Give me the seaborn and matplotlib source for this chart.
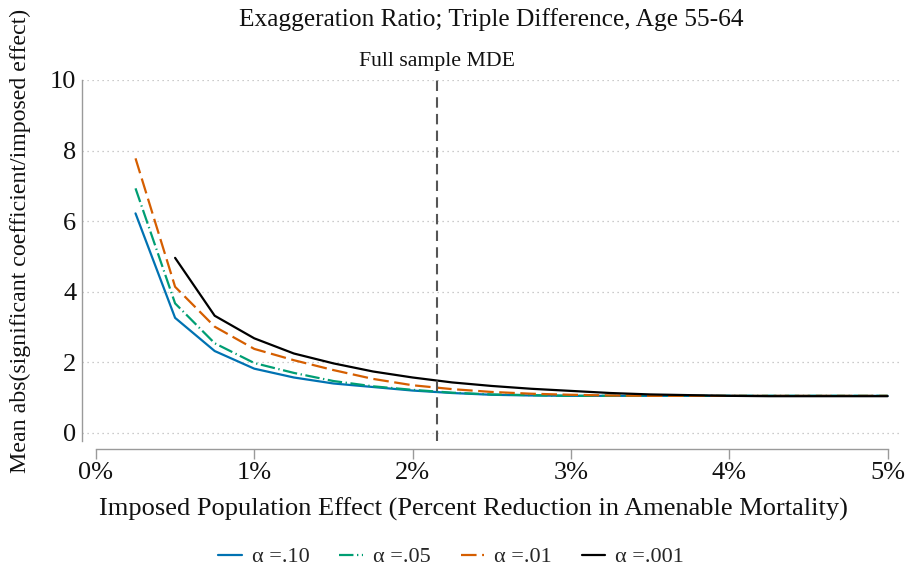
import numpy as np
import pandas as pd
import matplotlib
matplotlib.use("Agg")
import matplotlib.pyplot as plt
import matplotlib.transforms as mtransforms
import seaborn as sns

# Imposed population effect (percent reduction)
effect = [0.25, 0.50, 0.75, 1.00, 1.25, 1.50, 1.75, 2.00, 2.25, 2.50,
          2.75, 3.00, 3.25, 3.50, 3.75, 4.00, 4.25, 4.50, 4.75, 5.00]

# Mean exaggeration ratio by significance level
ratio_a10 = [6.22, 3.26, 2.32, 1.82, 1.57, 1.40, 1.30, 1.20, 1.13, 1.08,
             1.06, 1.05, 1.05, 1.05, 1.05, 1.05, 1.05, 1.05, 1.05, 1.05]
ratio_a05 = [6.93, 3.67, 2.54, 1.98, 1.70, 1.47, 1.32, 1.22, 1.14, 1.09,
             1.07, 1.05, 1.05, 1.05, 1.05, 1.05, 1.05, 1.05, 1.05, 1.05]
ratio_a01 = [7.78, 4.14, 3.01, 2.38, 2.06, 1.78, 1.53, 1.35, 1.24, 1.16,
             1.11, 1.08, 1.06, 1.05, 1.05, 1.05, 1.05, 1.05, 1.05, 1.05]
ratio_a001 = [np.nan, 4.96, 3.32, 2.68, 2.25, 1.97, 1.74, 1.57, 1.43, 1.33,
              1.25, 1.19, 1.13, 1.09, 1.07, 1.05, 1.04, 1.04, 1.04, 1.04]

series_labels = ["\u03b1 =.10", "\u03b1 =.05", "\u03b1 =.01", "\u03b1 =.001"]
mde = 2.152

sns.set_theme(style="white")
plt.rcParams["font.family"] = ["Liberation Serif", "DejaVu Serif"]

fig = plt.figure(figsize=(9.05, 5.78), dpi=100)
ax = fig.add_axes([0.0906, 0.237, 0.904, 0.6246])

styles = [
    ("#0072B2", "-"),
    ("#009E73", (0, (6.5, 1.6, 0.6, 1.6))),
    ("#D55E00", (0, (7, 2.5))),
    ("#000000", "-"),
]
for vals, lab, (col, ls) in zip([ratio_a10, ratio_a05, ratio_a01, ratio_a001],
                                series_labels, styles):
    df = pd.DataFrame({"effect": effect, "ratio": vals}).dropna()
    sns.lineplot(data=df, x="effect", y="ratio", ax=ax, color=col,
                 linestyle=ls, linewidth=1.6, label=lab, legend=False)

ax.set_xlim(-0.088, 5.079)
ax.set_ylim(-0.23, 10)
ax.set_yticks([0, 2, 4, 6, 8, 10])
ax.set_xticks([0, 1, 2, 3, 4, 5])
ax.set_xticklabels(["0%", "1%", "2%", "3%", "4%", "5%"])
ax.yaxis.grid(True, linestyle=(0, (1, 3)), color="#bbbbbb", linewidth=0.9)
ax.xaxis.grid(False)

for side in ["top", "right"]:
    ax.spines[side].set_visible(False)
ax.spines["left"].set_color("#9a9a9a")
ax.spines["left"].set_linewidth(1.0)
ax.spines["bottom"].set_color("#9a9a9a")
ax.spines["bottom"].set_linewidth(1.0)
ax.spines["bottom"].set_position(("outward", 6))
ax.spines["bottom"].set_bounds(0, 5)

ax.tick_params(axis="y", length=0, pad=4, labelsize=19, colors="#111111")
ax.tick_params(axis="x", length=7, width=1.0, color="#9a9a9a", pad=2,
               labelsize=19, labelcolor="#111111", bottom=True)

ax.axvline(mde, ymin=0, ymax=1, color="#555555", linestyle=(0, (5, 3)),
           linewidth=1.5)
trans = mtransforms.blended_transform_factory(ax.transData, ax.transAxes)
ax.text(mde, 1.05, "Full sample MDE", transform=trans, ha="center",
        va="center", fontsize=15.7, color="#111111")

ax.set_xlabel("Imposed Population Effect (Percent Reduction in Amenable Mortality)",
              fontsize=19, color="#111111")
ax.xaxis.set_label_coords(0.478, -0.158)
ax.set_ylabel("Mean abs(significant coefficient/imposed effect)",
              fontsize=17.2, color="#111111")
ax.yaxis.set_label_coords(-0.062, 0.555)
fig.suptitle("Exaggeration Ratio; Triple Difference, Age 55-64",
             x=0.5425, y=0.986, fontsize=18.3, color="#111111")

handles, labels = ax.get_legend_handles_labels()
fig.legend(handles, labels, loc="center", bbox_to_anchor=(0.4985, 0.036),
           ncol=4, frameon=False, fontsize=16, handlelength=1.05,
           columnspacing=1.35, handletextpad=0.45)

fig.savefig("out.png", dpi=100)
